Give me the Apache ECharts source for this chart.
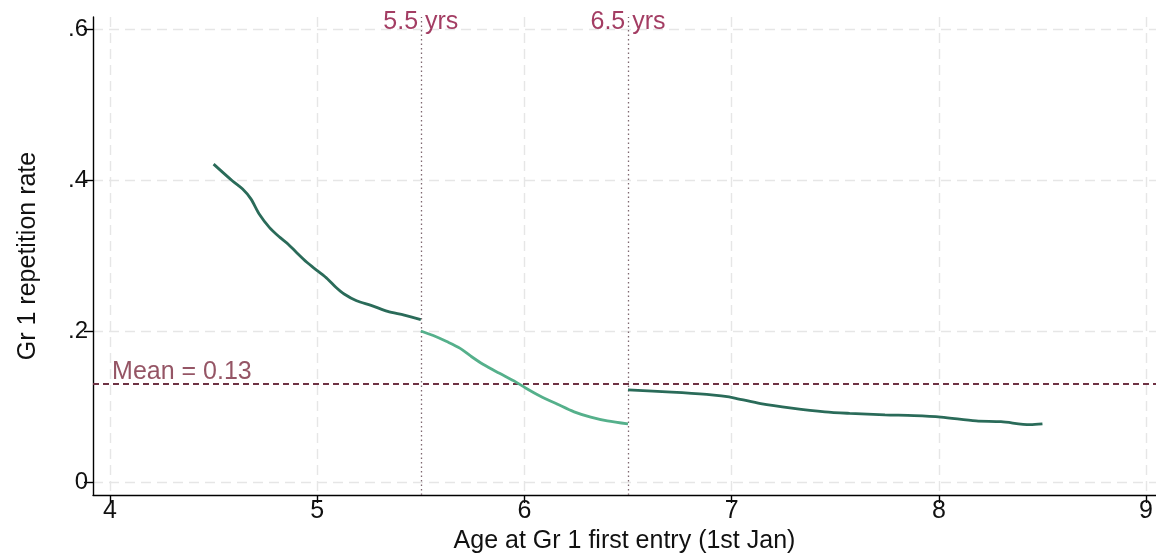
<!DOCTYPE html>
<html>
<head>
<meta charset="utf-8">
<script src="https://cdn.jsdelivr.net/npm/echarts@6/dist/echarts.min.js"></script>
<style>
html,body{margin:0;padding:0;background:#fff;}
#chart{width:1156px;height:559px;}
</style>
</head>
<body>
<div id="chart"></div>
<script>
// ---- data ----
var xTicks = [4, 5, 6, 7, 8, 9];
var yTicks = [0, 0.2, 0.4, 0.6];

var seg1X = [4.50, 4.59, 4.64, 4.68, 4.72, 4.77, 4.82, 4.86, 4.90, 4.95, 5.00, 5.05, 5.09, 5.13, 5.19, 5.26, 5.34, 5.42, 5.50];
var seg1Y = [0.421, 0.399, 0.388, 0.375, 0.355, 0.337, 0.324, 0.315, 0.304, 0.291, 0.280, 0.269, 0.258, 0.249, 0.240, 0.234, 0.226, 0.221, 0.215];

var seg2X = [5.50, 5.56, 5.625, 5.69, 5.74, 5.80, 5.88, 5.95, 6.01, 6.075, 6.16, 6.24, 6.32, 6.40, 6.50];
var seg2Y = [0.200, 0.194, 0.186, 0.177, 0.167, 0.156, 0.144, 0.134, 0.124, 0.114, 0.103, 0.093, 0.086, 0.081, 0.077];

var seg3X = [6.50, 6.71, 6.88, 6.95, 7.02, 7.14, 7.29, 7.45, 7.57, 7.74, 7.88, 8.01, 8.18, 8.30, 8.44, 8.50];
var seg3Y = [0.122, 0.119, 0.116, 0.114, 0.111, 0.104, 0.098, 0.093, 0.091, 0.089, 0.088, 0.086, 0.081, 0.080, 0.076, 0.077];

var cutoffs = [5.5, 6.5];
var cutoffLabels = ['5.5 yrs', '6.5 yrs'];
var meanValue = 0.13;
var meanLabel = 'Mean = 0.13';

// ---- build ----
function pairs(xs, ys) { return xs.map(function (x, i) { return [x, ys[i]]; }); }

var FONT = '"Liberation Sans", Arial, sans-serif';
var darkGreen = '#2a6b59';
var lightGreen = '#55b08b';

var chart = echarts.init(document.getElementById('chart'), null, {renderer: 'canvas'});

var option = {
  animation: false,
  backgroundColor: '#ffffff',
  grid: {left: 93, right: 0, top: 17, bottom: 62, containLabel: false},
  xAxis: {
    type: 'value',
    min: 3.918, max: 9.048,
    name: 'Age at Gr 1 first entry (1st Jan)',
    nameLocation: 'middle',
    nameGap: 34,
    nameTextStyle: {fontFamily: FONT, fontSize: 25, color: '#111'},
    axisLine: {show: true, onZero: false, lineStyle: {color: '#000', width: 1.4}},
    axisTick: {show: true, length: 8, customValues: xTicks, lineStyle: {color: '#000', width: 1.4}},
    axisLabel: {customValues: xTicks, margin: 4, fontFamily: FONT, fontSize: 25, color: '#111',
      formatter: function (v) { return String(v); }},
    splitLine: {show: true, lineStyle: {color: '#e6e6e6', width: 1.4, type: [10, 6]}}
  },
  yAxis: {
    type: 'value',
    min: -0.0171, max: 0.6158,
    name: 'Gr 1 repetition rate',
    nameLocation: 'middle',
    nameGap: 52,
    nameRotate: 90,
    nameTextStyle: {fontFamily: FONT, fontSize: 25, color: '#111'},
    axisLine: {show: true, onZero: false, lineStyle: {color: '#000', width: 1.4}},
    axisTick: {show: true, length: 9, customValues: yTicks, lineStyle: {color: '#000', width: 1.4}},
    axisLabel: {customValues: yTicks, margin: 5, fontFamily: FONT, fontSize: 24, color: '#111',
      formatter: function (v) { return v === 0 ? '0' : String(+v.toFixed(2)).replace(/^0\./, '.'); }},
    splitLine: {show: true, lineStyle: {color: '#e6e6e6', width: 1.4, type: [10, 6]}}
  },
  series: [
    {
      type: 'line', data: pairs(seg1X, seg1Y), symbol: 'none', smooth: 0.3,
      lineStyle: {color: darkGreen, width: 2.8}, z: 5,
      markLine: {
        silent: true, symbol: ['none', 'none'],
        label: {show: false},
        lineStyle: {color: '#7f6870', width: 1.3, type: [1.5, 3]},
        data: cutoffs.map(function (c) { return {xAxis: c}; })
      }
    },
    {
      type: 'line', data: pairs(seg2X, seg2Y), symbol: 'none', smooth: 0.3,
      lineStyle: {color: lightGreen, width: 2.8}, z: 5,
      markLine: {
        silent: true, symbol: ['none', 'none'],
        label: {show: false},
        lineStyle: {color: '#6e3244', width: 2, type: [6, 4]},
        data: [{yAxis: meanValue}]
      }
    },
    {
      type: 'line', data: pairs(seg3X, seg3Y), symbol: 'none', smooth: 0.3,
      lineStyle: {color: darkGreen, width: 2.8}, z: 5
    },
    {
      type: 'scatter', symbolSize: 0, silent: true, z: 6,
      data: cutoffs.map(function (c, i) { return {value: [c, 0.609], name: cutoffLabels[i]}; }),
      label: {show: true, position: 'inside', align: 'center', verticalAlign: 'middle',
        formatter: function (p) { return p.name; },
        fontFamily: FONT, fontSize: 25, color: '#8c0c3c'}
    },
    {
      type: 'scatter', symbolSize: 0, silent: true, z: 6,
      data: [{value: [4.01, meanValue + 0.0155], name: meanLabel}],
      label: {show: true, position: 'inside', align: 'left', verticalAlign: 'middle',
        formatter: function (p) { return p.name; },
        fontFamily: FONT, fontSize: 25, color: '#7a2a3e'}
    }
  ]
};
chart.setOption(option);
</script>
</body>
</html>
